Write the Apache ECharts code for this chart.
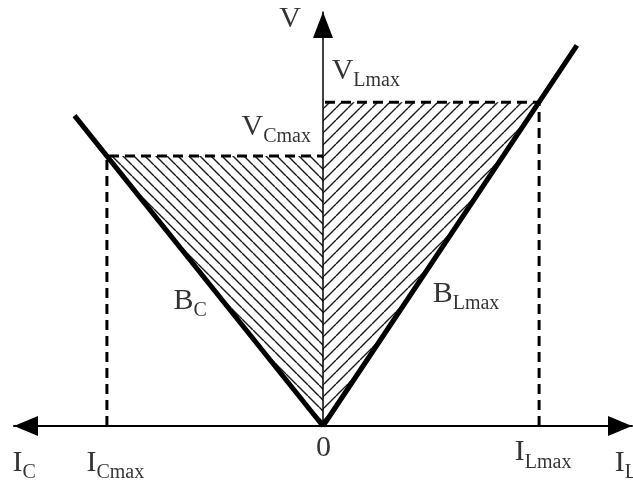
<!DOCTYPE html>
<html>
<head>
<meta charset="utf-8">
<script src="https://cdn.jsdelivr.net/npm/echarts@6/dist/echarts.min.js"></script>
<style>
  html, body { margin: 0; padding: 0; background: #fff; }
  #chart { width: 633px; height: 491px; }
</style>
</head>
<body>
<div id="chart"></div>
<script>
// operating limits (arbitrary units)
const iCmax = -4
const iLmax = 4
const vCmax = 5
const vLmax = 6
// boundary lines B_C and B_Lmax, from the origin outwards
const bcLine = [[0, 0], [-4.6, 5.75]]
const bLmaxLine = [[0, 0], [4.7, 7.05]]
// axis extents
const xMin = -5.72
const xMax = 5.72
const yMax = 7.67
// text labels (rich text) and the data point of their top-left corner
const labelTexts = [
  '{m|V}',
  '{m|V}{s|Lmax}',
  '{m|V}{s|Cmax}',
  '{m|B}{s|C}',
  '{m|B}{s|Lmax}',
  '{m|0}',
  '{m|I}{s|C}',
  '{m|I}{s|Cmax}',
  '{m|I}{s|Lmax}',
  '{m|I}{s|L}'
]
const labelAnchors = [
  [-0.8, 7.81],
  [0.17, 6.85],
  [-1.5, 5.81],
  [-2.76, 2.59],
  [2.04, 2.72],
  [-0.12, -0.15],
  [-5.74, -0.41],
  [-4.37, -0.41],
  [3.56, -0.22],
  [5.41, -0.41]
]

const serif = 'Liberation Serif'

// small tile with one diagonal stroke, repeated as a fill pattern
function hatch(dir, step) {
  const c = document.createElement('canvas')
  c.width = step
  c.height = step
  const ctx = c.getContext('2d')
  ctx.strokeStyle = '#1a1a1a'
  ctx.lineWidth = 1.4
  ctx.beginPath()
  for (const o of [-step, 0, step]) {
    if (dir > 0) {
      ctx.moveTo(o, step)
      ctx.lineTo(o + step, 0)
    } else {
      ctx.moveTo(o, 0)
      ctx.lineTo(o + step, step)
    }
  }
  ctx.stroke()
  return c
}
const patterns = [
  { image: hatch(-1, 11), repeat: 'repeat' },
  { image: hatch(1, 12), repeat: 'repeat' }
]

const chart = echarts.init(document.getElementById('chart'))
chart.setOption({
  animation: false,
  grid: { left: 14, right: 1, top: 12, bottom: 65, containLabel: false, outerBoundsMode: 'none' },
  xAxis: {
    type: 'value',
    min: xMin,
    max: xMax,
    axisLine: {
      onZero: true,
      symbol: ['triangle', 'triangle'],
      symbolSize: [20, 24],
      symbolOffset: [12, -12],
      lineStyle: { color: '#000', width: 2 }
    },
    axisTick: { show: false },
    axisLabel: { show: false },
    splitLine: { show: false }
  },
  yAxis: {
    type: 'value',
    min: 0,
    max: yMax,
    z: 5,
    axisLine: {
      show: true,
      onZero: true,
      symbol: ['none', 'triangle'],
      symbolSize: [20, 26],
      symbolOffset: [0, -13],
      lineStyle: { color: '#000', width: 1.5 }
    },
    axisTick: { show: false },
    axisLabel: { show: false },
    splitLine: { show: false }
  },
  series: [
    {
      // hatched operating regions
      type: 'custom',
      z: 1,
      silent: true,
      data: [[iCmax, vCmax], [iLmax, vLmax]],
      renderItem(params, api) {
        const x = api.value(0)
        const y = api.value(1)
        return {
          type: 'polygon',
          shape: { points: [api.coord([0, 0]), api.coord([x, y]), api.coord([0, y])] },
          style: { fill: patterns[params.dataIndex], stroke: null }
        }
      }
    },
    {
      type: 'line',
      z: 3,
      silent: true,
      symbol: 'none',
      data: [[iCmax, 0], [iCmax, vCmax], [0, vCmax]],
      lineStyle: { color: '#000', width: 3, type: [10, 6] }
    },
    {
      type: 'line',
      z: 3,
      silent: true,
      symbol: 'none',
      data: [[iLmax, 0], [iLmax, vLmax], [0, vLmax]],
      lineStyle: { color: '#000', width: 3, type: [10, 6] }
    },
    {
      type: 'line',
      z: 4,
      silent: true,
      symbol: 'none',
      data: bcLine,
      lineStyle: { color: '#000', width: 5 }
    },
    {
      type: 'line',
      z: 4,
      silent: true,
      symbol: 'none',
      data: bLmaxLine,
      lineStyle: { color: '#000', width: 5 }
    },
    {
      type: 'scatter',
      z: 6,
      silent: true,
      clip: false,
      symbolSize: 1,
      itemStyle: { color: 'transparent' },
      data: labelAnchors.map((p, i) => ({ value: p, label: { formatter: labelTexts[i] } })),
      label: {
        show: true,
        position: [0, 0],
        align: 'left',
        verticalAlign: 'top',
        fontFamily: serif,
        color: '#000',
        rich: {
          m: { fontFamily: serif, fontSize: 30, lineHeight: 30, verticalAlign: 'top', color: '#000' },
          s: { fontFamily: serif, fontSize: 20, lineHeight: 20, padding: [15, 0, 0, 0], verticalAlign: 'top', color: '#000' }
        }
      }
    }
  ]
})
</script>
</body>
</html>
